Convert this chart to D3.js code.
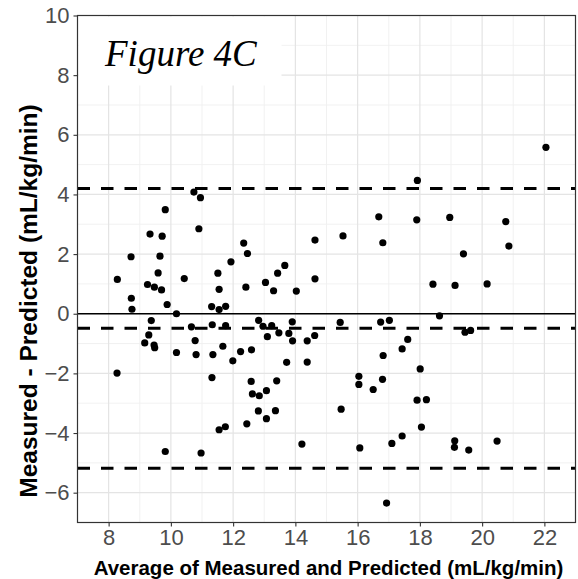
<!DOCTYPE html>
<html>
<head>
<meta charset="utf-8">
<script src="https://cdn.jsdelivr.net/npm/d3@7/dist/d3.min.js"></script>
<style>
  body { margin: 0; background: #fff; }
  svg { display: block; }
</style>
</head>
<body>
<svg id="chart" width="578" height="579"></svg>
<script>
// Bland-Altman data: mean of the two methods (x) and their difference (y)
const avgValues = [
  8.28, 8.27, 8.72, 8.73, 8.75, 9.16, 9.29, 9.37, 9.46, 9.48,
  9.25, 9.33, 9.47, 9.59, 9.65, 9.72, 9.70, 9.82, 9.88, 9.82,
  10.18, 10.18, 10.43, 10.66, 10.74, 10.95, 10.90, 10.78, 10.81, 10.97,
  11.31, 11.51, 11.55, 11.55, 11.76, 11.33, 11.76, 11.67, 11.35, 11.32,
  11.93, 11.99, 12.24, 12.34, 12.46, 12.41, 12.59, 11.55, 11.75, 12.44,
  12.58, 12.62, 12.84, 13.07, 13.40, 12.81, 13.07, 13.36, 12.82, 12.96,
  13.10, 13.04, 13.24, 13.30, 13.43, 13.47, 13.66, 13.79, 13.72, 13.90,
  13.91, 14.03, 14.38, 14.38, 14.21, 14.62, 14.63, 14.63, 15.44, 15.53,
  15.47, 16.04, 16.04, 16.07, 16.50, 16.68, 16.74, 16.80, 16.81, 16.82,
  16.93, 17.02, 17.10, 17.43, 17.43, 17.61, 17.90, 17.92, 17.91, 18.01,
  18.05, 18.21, 18.42, 18.63, 18.96, 19.13, 19.12, 19.11, 19.40, 19.45,
  19.63, 19.57, 20.16, 20.48, 20.76, 20.86, 22.05
];
const diffValues = [
  1.15, -1.99, 1.91, 0.52, 0.15, -0.98, -0.71, -0.23, -1.05, -1.14,
  0.98, 2.67, 0.89, 1.37, 1.93, 2.60, 0.80, 3.49, 0.31, -4.62,
  0.00, -1.30, 1.18, -0.44, 4.08, 3.89, 2.85, -0.90, -1.37, -4.67,
  0.24, 1.36, 0.82, 0.14, 0.25, -0.37, -0.40, -1.09, -1.37, -2.14,
  1.74, -1.58, -1.27, 2.37, 2.02, 0.89, -1.21, -3.89, -3.79, -3.69,
  -2.27, -2.69, -2.75, -2.58, -2.25, -3.26, -3.52, -3.25, -0.22, -0.42,
  -0.77, 1.05, -0.40, 0.77, 1.36, -0.64, 1.62, -0.66, -1.63, -0.27,
  -0.91, 0.76, -0.91, -1.62, -4.37, -0.73, 2.47, 1.17, -0.29, 2.61,
  -3.20, -2.10, -2.37, -4.50, -2.54, 3.25, -0.28, -2.20, 2.38, -1.40,
  -6.35, -0.22, -4.35, -1.18, -4.10, -0.86, 3.15, 4.47, -2.90, -1.85,
  -3.80, -2.88, 0.99, -0.07, 3.23, 0.95, -4.26, -4.48, 2.01, -0.62,
  -0.56, -4.57, 1.00, -4.27, 3.09, 2.27, 5.58
];

// Mean difference and 95% limits of agreement
const meanDiff = -0.49;
const upperLoA = 4.20;
const lowerLoA = -5.18;

const xTicks = [8, 10, 12, 14, 16, 18, 20, 22];
const xMinor = [9, 11, 13, 15, 17, 19, 21];
const yTicks = [-6, -4, -2, 0, 2, 4, 6, 8, 10];
const yMinor = [-5, -3, -1, 1, 3, 5, 7, 9];

const xTitle = "Average of Measured and Predicted (mL/kg/min)";
const yTitle = "Measured - Predicted (mL/kg/min)";
const panelTag = "Figure 4C";

const svg = d3.select("#chart");
const pLeft = 77.5, pRight = 575.5, pTop = 15.5, pBottom = 522.5;

const x = d3.scaleLinear().domain([7, 23]).range([pLeft, pRight]);
const y = d3.scaleLinear().domain([-7, 10]).range([pBottom, pTop]);

// grid
const grid = svg.append("g");
grid.selectAll(".xmin").data(xMinor).join("line")
  .attr("x1", d => x(d)).attr("x2", d => x(d)).attr("y1", pTop).attr("y2", pBottom)
  .attr("stroke", "#efefef").attr("stroke-width", 0.9);
grid.selectAll(".ymin").data(yMinor).join("line")
  .attr("y1", d => y(d)).attr("y2", d => y(d)).attr("x1", pLeft).attr("x2", pRight)
  .attr("stroke", "#efefef").attr("stroke-width", 0.9);
grid.selectAll(".xmaj").data(xTicks).join("line")
  .attr("x1", d => x(d)).attr("x2", d => x(d)).attr("y1", pTop).attr("y2", pBottom)
  .attr("stroke", "#e4e4e4").attr("stroke-width", 1.2);
grid.selectAll(".ymaj").data(yTicks).join("line")
  .attr("y1", d => y(d)).attr("y2", d => y(d)).attr("x1", pLeft).attr("x2", pRight)
  .attr("stroke", "#e4e4e4").attr("stroke-width", 1.2);

// reference lines
svg.append("line").attr("x1", pLeft).attr("x2", pRight)
  .attr("y1", y(0)).attr("y2", y(0)).attr("stroke", "#000").attr("stroke-width", 1.7);
[upperLoA, meanDiff, lowerLoA].forEach(v => {
  svg.append("line").attr("x1", pLeft).attr("x2", pRight)
    .attr("y1", y(v)).attr("y2", y(v))
    .attr("stroke", "#000").attr("stroke-width", 3)
    .attr("stroke-dasharray", "12.5,11");
});

// points
svg.append("g").selectAll("circle").data(avgValues.map((a, i) => [a, diffValues[i]]))
  .join("circle")
  .attr("cx", d => x(d[0])).attr("cy", d => y(d[1])).attr("r", 3.6)
  .attr("fill", "#000");

// panel tag on a white box
svg.append("rect").attr("x", pLeft + 1).attr("y", pTop + 1)
  .attr("width", 203).attr("height", 69).attr("fill", "#fff");
svg.append("text").attr("x", 105).attr("y", 66)
  .attr("font-family", "Liberation Serif, Times New Roman, serif")
  .attr("font-style", "italic").attr("font-size", 37).attr("fill", "#000")
  .text(panelTag);

// axes
const xAxis = svg.append("g").attr("transform", `translate(0,${pBottom})`)
  .call(d3.axisBottom(x).tickValues(xTicks).tickSize(4).tickPadding(3));
const yAxis = svg.append("g").attr("transform", `translate(${pLeft},0)`)
  .call(d3.axisLeft(y).tickValues(yTicks).tickSize(4).tickPadding(4));
[xAxis, yAxis].forEach(g => {
  g.select(".domain").remove();
  g.selectAll(".tick line").attr("stroke", "#333").attr("stroke-width", 1.1);
  g.selectAll(".tick text").attr("fill", "#4d4d4d")
    .attr("font-family", "Liberation Sans, Arial, sans-serif").attr("font-size", 22);
});

// panel border
svg.append("rect").attr("x", pLeft).attr("y", pTop)
  .attr("width", pRight - pLeft).attr("height", pBottom - pTop)
  .attr("fill", "none").attr("stroke", "#333").attr("stroke-width", 1.2);

// axis titles
svg.append("text").attr("x", (pLeft + pRight) / 2 + 2).attr("y", 575)
  .attr("text-anchor", "middle")
  .attr("font-family", "Liberation Sans, Arial, sans-serif")
  .attr("font-weight", "bold").attr("font-size", 20.5).attr("fill", "#000")
  .text(xTitle);
svg.append("text")
  .attr("transform", `translate(37,${(pTop + pBottom) / 2 + 32}) rotate(-90)`)
  .attr("text-anchor", "middle")
  .attr("font-family", "Liberation Sans, Arial, sans-serif")
  .attr("font-weight", "bold").attr("font-size", 24.5).attr("fill", "#000")
  .text(yTitle);
</script>
</body>
</html>
